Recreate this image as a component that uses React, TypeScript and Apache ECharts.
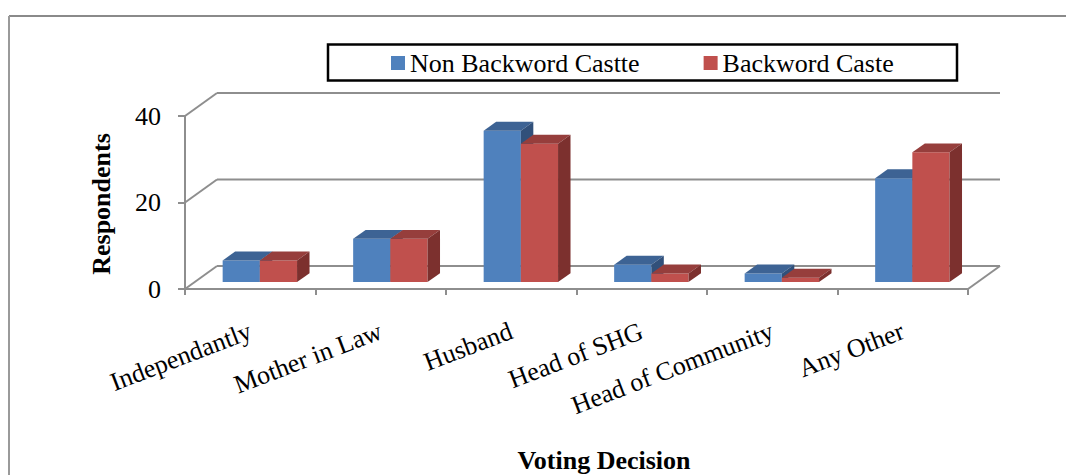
import React, { useEffect, useRef } from "react";
import * as echarts from "echarts";

const categories = ["Independantly", "Mother in Law", "Husband", "Head of SHG", "Head of Community", "Any Other"];
const seriesNames = ["Non Backword Castte", "Backword Caste"];
const nonBackward = [5, 10, 35, 4, 2, 24];
const backward = [5, 10, 32, 2, 1, 30];
const yTicks = [0, 20, 40];
const xTitle = "Voting Decision";
const yTitle = "Respondents";

const FONT = "Liberation Serif";
const GRID_COLOR = "#8E8E8E";
const DEPTH_DX = 32;
const DEPTH_DY = -23;
const BAR_FRONT = 0.3; // fraction of depth where bars' front face is
const BAR_DEPTH = 0.39; // fraction of depth for bar thickness
const BAR_FRAC = 0.285; // bar width / band width

const palettes = [
  { front: "#4F81BD", top: "#3D6394", side: "#31507A" },
  { front: "#C0504D", top: "#963E3C", side: "#7C302E" },
];

function barRenderer(seriesIdx: number) {
  return (params: any, api: any) => {
    const cat = api.value(0);
    const v = api.value(1);
    const base = api.coord([cat, 0]);
    const top = api.coord([cat, v]);
    const band = api.size([1, 0])[0];
    const w = band * BAR_FRAC;
    const fdx = DEPTH_DX * BAR_FRONT;
    const fdy = DEPTH_DY * BAR_FRONT;
    const bdx = DEPTH_DX * BAR_DEPTH;
    const bdy = DEPTH_DY * BAR_DEPTH;
    const x0 = base[0] + (seriesIdx === 0 ? -w : 0) + fdx;
    const x1 = x0 + w;
    const ty = top[1] + fdy;
    const by = base[1] + fdy;
    const pal = palettes[seriesIdx];
    return {
      type: "group",
      children: [
        {
          type: "rect",
          shape: { x: x0, y: ty, width: w, height: by - ty },
          style: { fill: pal.front },
        },
        {
          type: "polygon",
          shape: { points: [[x0, ty], [x1, ty], [x1 + bdx, ty + bdy], [x0 + bdx, ty + bdy]] },
          style: { fill: pal.top },
        },
        {
          type: "polygon",
          shape: { points: [[x1, ty], [x1 + bdx, ty + bdy], [x1 + bdx, by + bdy], [x1, by]] },
          style: { fill: pal.side },
        },
      ],
    };
  };
}

function wallRenderer(params: any, api: any) {
  const v = api.value(1);
  const band = api.size([1, 0])[0];
  const p = api.coord([0, v]);
  const q = api.coord([categories.length - 1, v]);
  const left = p[0] - band / 2;
  const right = q[0] + band / 2;
  const y = p[1];
  const style = { stroke: GRID_COLOR, lineWidth: 2, fill: null };
  const children: any[] = [
    { type: "line", shape: { x1: left, y1: y, x2: left + DEPTH_DX, y2: y + DEPTH_DY }, style },
    { type: "line", shape: { x1: left + DEPTH_DX, y1: y + DEPTH_DY, x2: right + DEPTH_DX, y2: y + DEPTH_DY }, style },
  ];
  if (v === 0) {
    children.push({ type: "line", shape: { x1: right, y1: y, x2: right + DEPTH_DX, y2: y + DEPTH_DY }, style });
  }
  return { type: "group", children };
}

export default function App() {
  const ref = useRef<HTMLDivElement>(null);
  useEffect(() => {
    if (!ref.current) return;
    const chart = echarts.init(ref.current, null, { renderer: "svg" });
    chart.setOption({
      animation: false,
      backgroundColor: "#ffffff",
      textStyle: { fontFamily: FONT },
      color: [palettes[0].front, palettes[1].front],
      grid: { left: 185, top: 116, width: 783, height: 173, containLabel: false },
      legend: {
        data: seriesNames,
        left: 391,
        top: 50,
        padding: 0,
        icon: "rect",
        itemWidth: 14,
        itemHeight: 14,
        itemGap: 64,
        textStyle: { fontFamily: FONT, fontSize: 26, color: "#000" },
      },
      xAxis: {
        type: "category",
        data: categories,
        boundaryGap: true,
        axisLine: { show: true, lineStyle: { color: GRID_COLOR, width: 2 } },
        axisTick: { show: true, length: 6, lineStyle: { color: GRID_COLOR, width: 2 } },
        axisLabel: {
          interval: 0,
          rotate: 21,
          margin: 41,
          fontFamily: FONT,
          fontSize: 26,
          color: "#000",
        },
        splitLine: { show: false },
      },
      yAxis: {
        type: "value",
        min: 0,
        max: 40,
        interval: 20,
        axisLine: { show: true, lineStyle: { color: GRID_COLOR, width: 2 } },
        axisTick: { show: true, length: 7, lineStyle: { color: GRID_COLOR, width: 2 } },
        axisLabel: {
          margin: 24,
          fontFamily: FONT,
          fontSize: 26,
          color: "#000",
          padding: [8, 0, 0, 0],
        },
        splitLine: { show: false },
      },
      graphic: [
        { type: "line", shape: { x1: 9, y1: 16, x2: 1066, y2: 16 }, style: { stroke: "#8A8A8A", lineWidth: 2 } },
        { type: "line", shape: { x1: 9, y1: 16, x2: 9, y2: 475 }, style: { stroke: "#9A9A9A", lineWidth: 2 } },
        {
          type: "rect",
          shape: { x: 328, y: 44.5, width: 629, height: 36 },
          style: { fill: "none", stroke: "#000", lineWidth: 2.5 },
          z: 10,
        },
        {
          type: "text",
          x: 604,
          y: 460,
          style: { text: xTitle, fontFamily: FONT, fontSize: 26, fontWeight: "bold", fill: "#000", align: "center", verticalAlign: "middle" },
        },
        {
          type: "text",
          x: 101.5,
          y: 204,
          rotation: Math.PI / 2,
          style: { text: yTitle, fontFamily: FONT, fontSize: 26, fontWeight: "bold", fill: "#000", align: "center", verticalAlign: "middle" },
        },
      ],
      series: [
        {
          type: "custom",
          name: "walls",
          clip: false,
          silent: true,
          z: 1,
          renderItem: wallRenderer,
          data: yTicks.map((v) => [0, v]),
          encode: { x: 0, y: 1 },
        },
        {
          type: "custom",
          name: seriesNames[0],
          clip: false,
          z: 2,
          itemStyle: { color: palettes[0].front },
          renderItem: barRenderer(0),
          data: nonBackward.map((v, i) => [i, v]),
          encode: { x: 0, y: 1 },
        },
        {
          type: "custom",
          name: seriesNames[1],
          clip: false,
          z: 3,
          itemStyle: { color: palettes[1].front },
          renderItem: barRenderer(1),
          data: backward.map((v, i) => [i, v]),
          encode: { x: 0, y: 1 },
        },
      ],
    });
    return () => chart.dispose();
  }, []);
  return <div ref={ref} style={{ position: "absolute", left: 0, top: 0, width: 1066, height: 475 }} />;
}
